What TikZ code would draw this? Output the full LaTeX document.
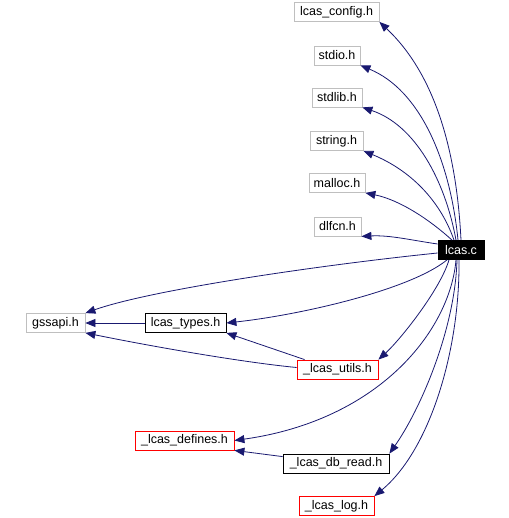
\documentclass[tikz,border=0pt]{standalone}
\usepackage{fontspec}
\setmainfont{Liberation Sans}
\usetikzlibrary{arrows.meta}
\definecolor{edgeblue}{HTML}{191970}
\definecolor{extgray}{HTML}{BFBFBF}
\begin{document}
\begin{tikzpicture}[x=1pt,y=-1pt,
  file/.style={draw,line width=0.8pt,inner sep=0pt,minimum height=19pt,font=\fontsize{12.5}{14}\selectfont},
  ext/.style={file,draw=extgray},
  doc/.style={file,draw=black},
  inc/.style={file,draw=red},
  dep/.style={-{Triangle[length=10pt,width=8pt]},draw=edgeblue,line width=0.8pt}]
\useasboundingbox (0,0) rectangle (508,518);
\node[ext,minimum width=85pt] (config) at (336.5,12) {lcas\_config.h};
\node[ext,minimum width=46pt] (stdio) at (337,55.5) {stdio.h};
\node[ext,minimum width=50pt] (stdlib) at (337,97.5) {stdlib.h};
\node[ext,minimum width=53pt] (string) at (336.5,141) {string.h};
\node[ext,minimum width=56pt] (malloc) at (337,183) {malloc.h};
\node[ext,minimum width=47pt] (dlfcn) at (337.5,226.5) {dlfcn.h};
\node[file,fill=black,text=white,minimum width=46pt] (lcas) at (461,250) {lcas.c};
\node[ext,minimum width=59pt] (gssapi) at (55.5,323) {gssapi.h};
\node[doc,minimum width=81pt] (types) at (185.5,323) {lcas\_types.h};
\node[inc,minimum width=81pt] (utils) at (337.5,369.5) {\_lcas\_utils.h};
\node[inc,minimum width=99pt] (defines) at (184.5,440.5) {\_lcas\_defines.h};
\node[doc,minimum width=106pt] (dbread) at (336,463.5) {\_lcas\_db\_read.h};
\node[inc,minimum width=75pt] (log) at (336.5,506) {\_lcas\_log.h};
\draw[dep] (lcas.north) .. controls (455,120) and (420,60) .. (config.south east);
\draw[dep] (lcas.north) ++(-3,0) .. controls (450,160) and (420,90) .. (stdio.south east);
\draw[dep] (lcas.north) ++(-5,0) .. controls (445,180) and (415,125) .. (stdlib.south east);
\draw[dep] (lcas.north) ++(-7,0) .. controls (440,200) and (410,170) .. (string.south east);
\draw[dep] (lcas.north) ++(-9,0) .. controls (430,220) and (400,200) .. (malloc.south east);
\draw[dep] (lcas.west) ++(0,-6) .. controls (410,240) and (390,235) .. (dlfcn.south east);
\draw[dep] (lcas.west) ++(0,3) .. controls (320,265) and (150,290) .. (gssapi.north east);
\draw[dep] (lcas.south) ++(-14,0) .. controls (410,290) and (300,315) .. (types.east);
\draw[dep] (lcas.south) ++(-12,0) .. controls (440,290) and (400,340) .. (utils.north east);
\draw[dep] (lcas.south) ++(-5,0) .. controls (450,330) and (380,420) .. (defines.east);
\draw[dep] (lcas.south) ++(-4,0) .. controls (455,330) and (420,410) .. (dbread.north east);
\draw[dep] (lcas.south) ++(-2,0) .. controls (460,350) and (430,450) .. (log.north east);
\draw[dep] (types) -- (gssapi);
\draw[dep] (utils.west) ++(0,-2) .. controls (240,362) and (150,346) .. (gssapi.south east);
\draw[dep] (utils.north west) ++(8,0) -- (types.south east);
\draw[dep] (dbread.north west) ++(0,3) -- (defines.south east);
\end{tikzpicture}
\end{document}
